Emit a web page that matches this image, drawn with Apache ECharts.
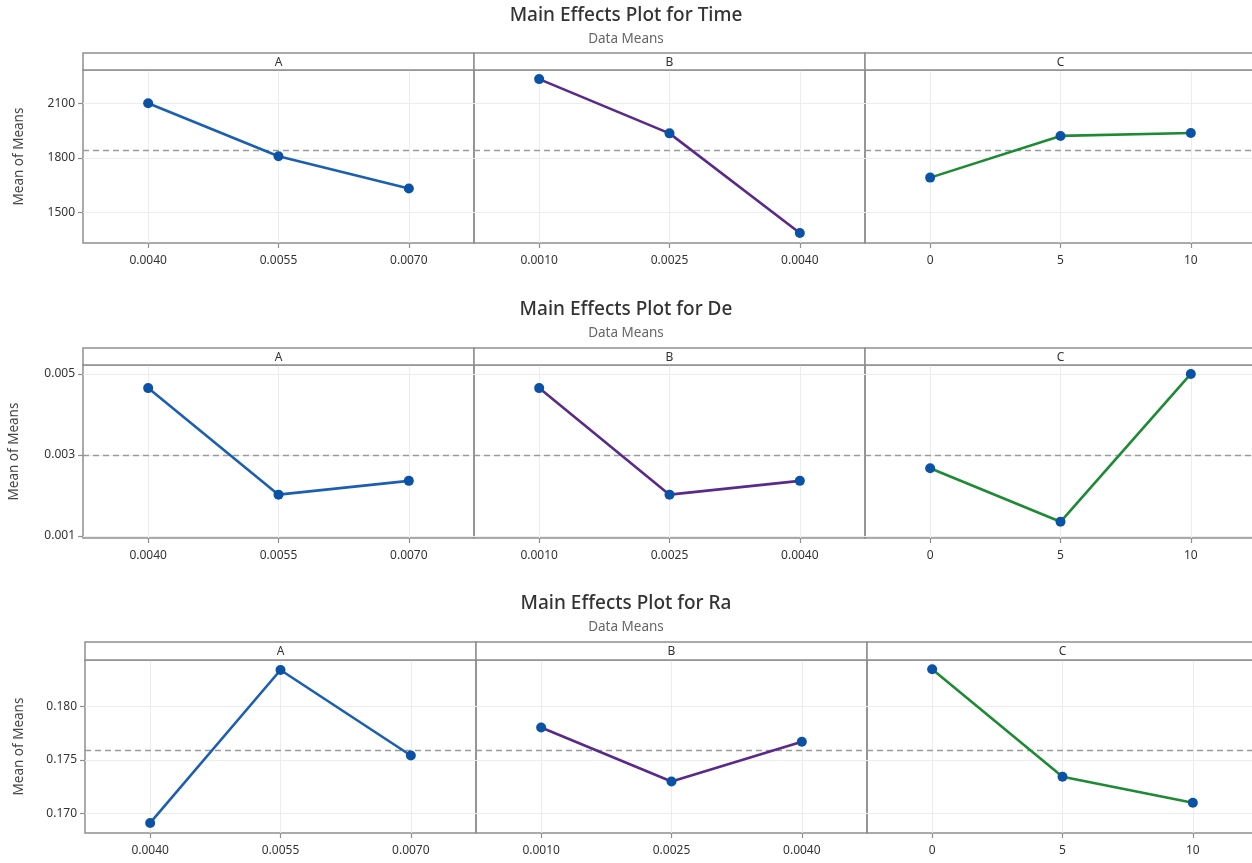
<!DOCTYPE html>
<html>
<head>
<meta charset="utf-8">
<script src="https://cdn.jsdelivr.net/npm/echarts@6/dist/echarts.min.js"></script>
<style>html,body{margin:0;padding:0;background:#fff;overflow:hidden;}#c{width:1252px;height:863px;}</style>
</head>
<body>
<div id="c"></div>
<script>
// ---- data ----
const factorNames = ['A', 'B', 'C'];
const levelsA = ['0.0040', '0.0055', '0.0070'];
const levelsB = ['0.0010', '0.0025', '0.0040'];
const levelsC = ['0', '5', '10'];

const responseNames = ['Time', 'De', 'Ra'];
const subtitleText = 'Data Means';
const yAxisTitle = 'Mean of Means';

const timeA = [2100, 1809, 1632];
const timeB = [2233, 1935, 1388];
const timeC = [1692, 1921, 1937];
const timeMean = 1845;
const timeTicks = [1500, 1800, 2100];
const timeRange = [1333, 2283];

const deA = [0.00465, 0.00202, 0.00236];
const deB = [0.00465, 0.00202, 0.00236];
const deC = [0.00267, 0.00135, 0.00500];
const deMean = 0.00300;
const deTicks = [0.001, 0.003, 0.005];
const deRange = [0.00095, 0.00522];

const raA = [0.16911, 0.18338, 0.17540];
const raB = [0.17801, 0.17298, 0.17668];
const raC = [0.18344, 0.17342, 0.17100];
const raMean = 0.17586;
const raTicks = [0.170, 0.175, 0.180];
const raRange = [0.16817, 0.18431];

// ---- layout / style ----
const rows = [
  { vals: [timeA, timeB, timeC], mean: timeMean, ticks: timeTicks, range: timeRange, dec: 0, nameGap: 57,
    titleY: 1, frameTop: 53, headTop: 70, bottom: 243, left: 83, w: 391 },
  { vals: [deA, deB, deC], mean: deMean, ticks: deTicks, range: deRange, dec: 3, nameGap: 62,
    titleY: 295, frameTop: 348, headTop: 365, bottom: 538, left: 83, w: 391 },
  { vals: [raA, raB, raC], mean: raMean, ticks: raTicks, range: raRange, dec: 3, nameGap: 59,
    titleY: 589, frameTop: 642, headTop: 660, bottom: 833, left: 85, w: 391 }
];
const levels = [levelsA, levelsB, levelsC];
const lineColors = ['#1b5fb3', '#5a2a8a', '#1d8a34'];
const markerColor = '#0a52a6';
const frameColor = '#8e8e8e';
const FONT = '"Noto Sans", "Open Sans", sans-serif';

const grid = [], xAxis = [], yAxis = [], series = [], title = [], graphic = [];
let gi = 0;
rows.forEach((r, ri) => {
  title.push({
    text: 'Main Effects Plot for ' + responseNames[ri],
    subtext: subtitleText,
    left: 'center', top: r.titleY, itemGap: 7,
    textStyle: { fontFamily: FONT, fontSize: 19, fontWeight: 500, color: '#333' },
    subtextStyle: { fontFamily: FONT, fontSize: 13.5, color: '#666' }
  });
  for (let p = 0; p < 3; p++) {
    const x0 = r.left + p * r.w;
    grid.push({ left: x0, top: r.headTop, width: r.w, height: r.bottom - r.headTop,
      show: true, borderColor: frameColor, borderWidth: 1.5, backgroundColor: 'transparent',
      containLabel: false, outerBoundsMode: 'none' });
    graphic.push({ type: 'rect', shape: { x: x0, y: r.frameTop, width: r.w, height: r.headTop - r.frameTop },
      style: { fill: '#fff', stroke: frameColor, lineWidth: 1.5 }, z: 100 });
    graphic.push({ type: 'text', x: x0 + r.w / 2, y: (r.frameTop + r.headTop) / 2 + 1,
      style: { text: factorNames[p], fill: '#333', font: '12px ' + FONT, textAlign: 'center', textVerticalAlign: 'middle' }, z: 101 });
    xAxis.push({
      type: 'category', gridIndex: gi, data: levels[p], boundaryGap: true,
      axisLine: { show: false },
      axisTick: { show: true, alignWithLabel: true, length: 5, lineStyle: { color: frameColor, width: 1.2 } },
      axisLabel: { color: '#333', fontFamily: FONT, fontSize: 12, margin: 12 },
      splitLine: { show: true, alignWithLabel: true, lineStyle: { color: '#ececec', width: 1 } }
    });
    yAxis.push({
      type: 'value', gridIndex: gi, min: r.range[0], max: r.range[1], scale: true,
      axisLine: { show: false },
      axisTick: { show: p === 0, length: 5, customValues: r.ticks, lineStyle: { color: frameColor, width: 1.2 } },
      axisLabel: { show: p === 0, customValues: r.ticks, color: '#333', fontFamily: FONT, fontSize: 12, margin: 8,
        formatter: v => r.dec ? v.toFixed(r.dec) : String(Math.round(v)) },
      splitLine: { show: true, lineStyle: { color: '#ededed', width: 1 } },
      name: p === 0 ? yAxisTitle : '', nameLocation: 'middle', nameGap: r.nameGap, nameRotate: 90,
      nameTextStyle: { color: '#444', fontFamily: FONT, fontSize: 13.5 }
    });
    series.push({
      type: 'line', xAxisIndex: gi, yAxisIndex: gi, data: r.vals[p],
      symbol: 'circle', symbolSize: 10, showSymbol: true,
      lineStyle: { color: lineColors[p], width: 2.6 },
      itemStyle: { color: markerColor },
      animation: false, silent: true, z: 5,
      markLine: { silent: true, symbol: 'none', animation: false, precision: 10, label: { show: false },
        lineStyle: { color: '#9a9a9a', type: [6, 4], width: 1.3 }, data: [{ yAxis: r.mean }] }
    });
    gi++;
  }
});

const chart = echarts.init(document.getElementById('c'), null, { renderer: 'canvas' });
chart.setOption({ animation: false, backgroundColor: '#fff', title, grid, xAxis, yAxis, series, graphic });
</script>
</body>
</html>
